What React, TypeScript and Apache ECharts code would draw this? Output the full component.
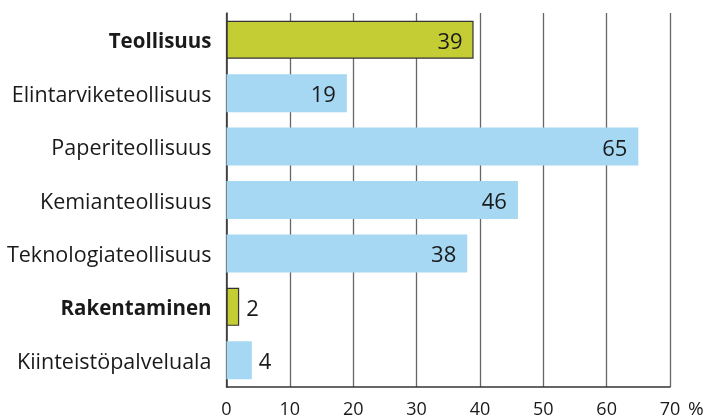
import React, { useEffect, useRef } from "react";
import * as echarts from "echarts";

const categories = [
  "Teollisuus",
  "Elintarviketeollisuus",
  "Paperiteollisuus",
  "Kemianteollisuus",
  "Teknologiateollisuus",
  "Rakentaminen",
  "Kiinteistöpalveluala",
];
const values = [39, 19, 65, 46, 38, 2, 4];
const isMain = [true, false, false, false, false, true, false];
const xTicks = [0, 10, 20, 30, 40, 50, 60, 70];
const unit = "%";

const FONT = "'Open Sans', 'Noto Sans', sans-serif";

export default function App() {
  const ref = useRef<HTMLDivElement>(null);
  useEffect(() => {
    if (!ref.current) return;
    const chart = echarts.init(ref.current, null, { renderer: "svg" });
    chart.setOption({
      animation: false,
      grid: {
        left: 226.5,
        right: 41,
        top: 13,
        bottom: 32,
        containLabel: false,
        outerBoundsMode: "none",
      },
      xAxis: {
        type: "value",
        min: xTicks[0],
        max: xTicks[xTicks.length - 1],
        interval: 10,
        name: unit,
        nameLocation: "end",
        nameGap: 18,
        nameTextStyle: {
          fontFamily: FONT,
          fontSize: 19,
          lineHeight: 19,
          color: "#1a1a1a",
          verticalAlign: "top",
          padding: [11, 0, 0, 0],
        },
        axisLine: { show: true, lineStyle: { color: "#333", width: 1.5 } },
        axisTick: { show: false },
        axisLabel: {
          fontFamily: FONT,
          fontSize: 18,
          lineHeight: 18,
          color: "#1a1a1a",
          margin: 12,
        },
        splitLine: { show: true, lineStyle: { color: "#666", width: 1.3 } },
      },
      yAxis: {
        type: "category",
        data: categories,
        inverse: true,
        axisLine: { show: true, lineStyle: { color: "#333", width: 1.5 } },
        axisTick: { show: false },
        axisLabel: {
          fontFamily: FONT,
          fontSize: 21.5,
          color: "#1a1a1a",
          margin: 15,
          formatter: (v: string) => {
            const i = categories.indexOf(v);
            return isMain[i] ? `{b|${v}}` : v;
          },
          rich: {
            b: { fontFamily: FONT, fontSize: 20.5, fontWeight: "bold", color: "#1a1a1a" },
          },
        },
        splitLine: { show: false },
      },
      series: [
        {
          type: "bar",
          barWidth: 38,
          data: values.map((v, i) => ({
            value: v,
            itemStyle: isMain[i]
              ? { color: "#c5cd35", borderColor: "#333", borderWidth: 1.2 }
              : { color: "#a6d8f4" },
            label: {
              show: true,
              position: v < 10 ? "right" : "insideRight",
              distance: v < 10 ? 7 : 11,
              fontFamily: FONT,
              fontSize: 22,
              color: "#1a1a1a",
            },
          })),
        },
      ],
    });
    return () => chart.dispose();
  }, []);
  return (
    <div
      ref={ref}
      style={{ position: "fixed", left: 0, top: 0, width: 711, height: 419 }}
    />
  );
}
